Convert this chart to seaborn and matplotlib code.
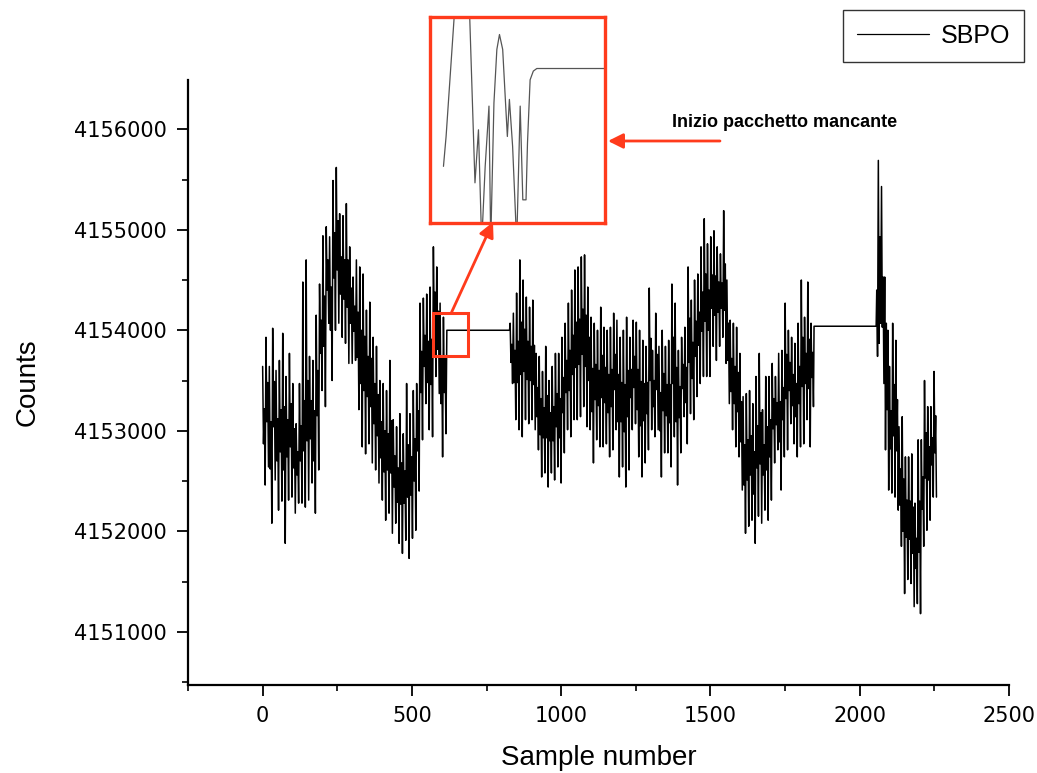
import matplotlib
matplotlib.use("Agg")
import matplotlib.pyplot as plt
from matplotlib.patches import Rectangle
import numpy as np
import seaborn as sns

# counts are stored as offsets above this level
BASE = 4150000

# segment 1: samples 0 - 614 (4 readings per ~11 samples: top, core low, core high, bottom)
seg1_counts = [
    3640, 2870, 3220, 2460, 3930, 3090, 3480, 2640, 3640, 2620, 3090, 2080,
    4020, 3040, 3490, 2510, 3600, 2700, 3120, 2210, 3700, 2790, 3210, 2300,
    3970, 2610, 3240, 1880, 3540, 2740, 3110, 2310, 3770, 2840, 3270, 2340,
    3470, 2630, 3020, 2180, 3070, 2560, 2790, 2280, 3470, 2700, 3050, 2280,
    4480, 2800, 3300, 2240, 4700, 2900, 3500, 2310, 3740, 2920, 3300, 2480,
    3700, 2700, 3200, 2180, 4150, 3150, 3600, 2610, 4460, 3770, 4100, 3400,
    4940, 3840, 4340, 3240, 5030, 4400, 4700, 4070, 4930, 4000, 4430, 3500,
    5490, 4520, 4970, 4000, 5620, 4600, 5090, 4070, 5160, 4360, 4730, 3930,
    5140, 4310, 4700, 3870, 5260, 4230, 4700, 3670, 4830, 4070, 4420, 3670,
    4530, 3990, 4240, 3700, 4700, 3730, 4180, 3210, 4630, 3470, 4000, 2840,
    4560, 3400, 3940, 2770, 4200, 3340, 3740, 2870, 4280, 3240, 3720, 2680,
    3930, 3070, 3470, 2610, 3840, 2950, 3360, 2480, 3500, 2730, 3090, 2310,
    3470, 2590, 3000, 2110, 3400, 2610, 2970, 2180, 3700, 2580, 3100, 1980,
    3110, 2440, 2750, 2080, 3040, 2290, 2630, 1880, 3170, 2270, 2680, 1780,
    2970, 2280, 2600, 1910, 3470, 2340, 2860, 1730, 3170, 2360, 2740, 1930,
    3400, 2500, 2920, 2010, 3470, 2800, 3200, 2400, 4270, 3380, 3790, 2910,
    4320, 3640, 3950, 3270, 4360, 3480, 3890, 3010, 4430, 3460, 3910, 2940,
    4830, 3990, 4380, 3540, 4630, 3810, 4190, 3370, 4270, 3270, 3740, 2740,
    4130, 3380, 3730, 2970,
]

# missing packet 1, held constant
gap1_samples = [617, 827]
gap1_counts = [4000, 4000]

# segment 2: samples 829 - 1845
seg2_counts = [
    4070, 3680, 3860, 3470, 4170, 3480, 3800, 3110, 4370, 3480, 3890, 3010,
    4700, 3560, 4080, 2940, 4500, 3590, 4010, 3110, 4330, 3510, 3890, 3070,
    4230, 3500, 3840, 3110, 4300, 3460, 3850, 3010, 3770, 3140, 3430, 2810,
    3740, 2960, 3320, 2540, 3590, 2930, 3230, 2580, 3840, 2930, 3350, 2440,
    3500, 2900, 3180, 2580, 3640, 2900, 3240, 2510, 3770, 3040, 3370, 2640,
    3770, 2930, 3320, 2480, 3930, 3180, 3530, 2780, 4070, 3380, 3700, 3010,
    4270, 3400, 3800, 2940, 4400, 3560, 3950, 3110, 4600, 3630, 4080, 3110,
    4630, 3660, 4110, 3140, 4730, 3760, 4210, 3240, 4750, 3640, 4150, 3040,
    4430, 3500, 3930, 3010, 4130, 3190, 3620, 2680, 4070, 3310, 3660, 2910,
    4000, 3250, 3600, 2840, 4230, 3330, 3750, 2840, 4030, 3280, 3630, 2870,
    4000, 3180, 3560, 2740, 4030, 3240, 3610, 2810, 4170, 3410, 3760, 3010,
    4100, 3090, 3560, 2540, 3930, 3090, 3480, 2640, 4000, 2990, 3460, 2440,
    4130, 3140, 3600, 2610, 3930, 3330, 3610, 3010, 4100, 3430, 3740, 3070,
    4080, 3210, 3610, 2740, 4000, 3050, 3490, 2540, 3900, 3100, 3470, 2680,
    3840, 3170, 3480, 2810, 4420, 3500, 3920, 3010, 3800, 3240, 3500, 2940,
    4170, 3410, 3760, 3010, 3840, 3000, 3380, 2540, 4000, 3200, 3570, 2780,
    3840, 3150, 3460, 2780, 3900, 3080, 3460, 2640, 4460, 3470, 3930, 2940,
    4270, 3090, 3630, 2460, 3800, 3130, 3440, 2780, 3930, 3420, 3660, 3140,
    4030, 3280, 3630, 2870, 4630, 3680, 4120, 3170, 4300, 3520, 3880, 3110,
    4500, 3740, 4090, 3340, 4560, 3850, 4180, 3470, 4830, 3990, 4380, 3540,
    5110, 4090, 4560, 3540, 4860, 4000, 4400, 3540, 4930, 4220, 4550, 3840,
    4990, 4150, 4540, 3700, 4830, 4180, 4480, 3840, 4760, 4220, 4470, 3930,
    5190, 4200, 4660, 3670, 4500, 3700, 4070, 3270, 4100, 3390, 3720, 3010,
    4070, 3270, 3640, 2840, 4030, 3190, 3580, 2740, 3770, 2890, 3290, 2410,
    3340, 2460, 2860, 1980, 3370, 2510, 2910, 2050, 3400, 2560, 2950, 2110,
    3270, 2370, 2790, 1880, 3540, 2630, 3050, 2150, 3770, 2670, 3180, 2080,
    3210, 2560, 2860, 2210, 3540, 2610, 3040, 2110, 3540, 2740, 3110, 2310,
    3670, 3020, 3320, 2680, 3540, 3060, 3280, 2810, 3770, 2890, 3290, 2410,
    3800, 3110, 3430, 2740, 4270, 3320, 3760, 2810, 4000, 3400, 3680, 3070,
    3930, 3250, 3560, 2870, 3870, 3140, 3470, 2740, 4070, 3270, 3640, 2840,
    4500, 3440, 3930, 2870, 4130, 3470, 3770, 3110, 4480, 3420, 3910, 2840,
    4070, 3530, 3780, 3240,
]

# missing packet 2
gap2_samples = [1847, 2055]
gap2_counts = [4040, 4040]

# segment 3: samples 2057 - 2257
seg3_counts = [
    4400, 3740, 5690, 3870, 4930, 4070, 5430, 4030, 4530, 3470, 4530, 2810,
    4070, 3210, 4000, 2410,
    3640, 2820, 3200, 2380, 4070, 2950, 3460, 2340, 3900, 2800, 3310, 2210,
    3040, 2260, 2620, 1850, 3140, 2000, 2520, 1380, 2740, 1940, 2310, 1520,
    2740, 1920, 2300, 1480, 2770, 1780, 2240, 1250, 2280, 1630, 1930, 1280,
    2910, 1790, 2300, 1180, 2910, 2220, 2540, 1850, 3500, 2530, 2980, 2010,
    3240, 2510, 2840, 2110, 3240, 2660, 2930, 2340, 3590, 2780, 3150, 2340,
]

# zoomed view in the inset (start of the missing packet)
inset_samples = [604.6, 605.5, 608.9, 613.3, 615.4, 616.6, 617.7, 618.9, 620.2,
                 620.8, 621.9, 622.9, 623.8, 624.9, 625.7, 626.5, 627.2, 628.3,
                 629.7, 630.9, 631.8, 632.9, 633.4, 634.3, 635.4, 636.6, 660.0]
inset_counts = [3810, 3868, 4153, 4153, 3778, 3881, 3661, 3810, 3927,
                3661, 3933, 4037, 4066, 4037, 3952, 3868, 3940, 3849,
                3661, 3927, 3745, 3745, 3855, 3978, 3995, 4000, 4000]

RED = "#ff3b1c"

samples = np.concatenate([
    np.linspace(0, 614, len(seg1_counts)), gap1_samples,
    np.linspace(829, 1845, len(seg2_counts)), gap2_samples,
    np.linspace(2057, 2257, len(seg3_counts)),
])
counts = BASE + np.concatenate([seg1_counts, gap1_counts, seg2_counts,
                                gap2_counts, seg3_counts])

sns.set_style("ticks")
plt.rcParams["font.family"] = ["DejaVu Sans"]
plt.rcParams.update({
    "axes.edgecolor": "black", "xtick.color": "black", "ytick.color": "black",
    "text.color": "black", "axes.labelcolor": "black",
})

fig = plt.figure(figsize=(10.37, 7.73), dpi=100)
ax = fig.add_axes([0.1813, 0.1138, 0.7917, 0.7827])

sns.lineplot(x=samples, y=counts, ax=ax, color="black", lw=1.1,
             estimator=None, sort=False, legend=False)

ax.set_xlim(-250, 2500)
ax.set_ylim(4150470, 4156490)
ax.set_xticks([0, 500, 1000, 1500, 2000, 2500])
ax.set_xticks(np.arange(-250, 2501, 250), minor=True)
ax.set_yticks(np.arange(4151000, 4156001, 1000))
ax.set_yticks(np.arange(4150500, 4156001, 500), minor=True)
ax.yaxis.set_major_formatter(matplotlib.ticker.FormatStrFormatter("%d"))
sns.despine(ax=ax)
for side in ["left", "bottom"]:
    ax.spines[side].set_linewidth(1.6)
ax.tick_params(which="major", direction="out", length=8, width=1.3,
               labelsize=15, pad=7)
ax.tick_params(which="minor", direction="out", length=4, width=1.2)

ax.set_xlabel("Sample number", family="Liberation Sans", fontsize=20, labelpad=14)
ax.set_ylabel("Counts", family="Liberation Sans", fontsize=20, labelpad=24)

# small box marking the zoomed region
ax.add_patch(Rectangle((570, 4153740), 117, 430, fill=False,
                       edgecolor=RED, lw=2.2, zorder=5))

# legend, top right
handle = plt.Line2D([], [], color="black", lw=0.9)
leg = fig.legend([handle], ["SBPO"], loc="upper left",
                 bbox_to_anchor=(0.813, 0.987), frameon=True, fancybox=False,
                 prop={"family": "Liberation Sans", "size": 18},
                 handlelength=2.9, handletextpad=0.45, borderpad=0.55,
                 borderaxespad=0)
leg.get_frame().set_edgecolor("black")
leg.get_frame().set_linewidth(1.0)

# inset with the zoomed trace
ins = fig.add_axes([0.4147, 0.7115, 0.1688, 0.2665])
sns.lineplot(x=inset_samples, y=BASE + np.array(inset_counts), ax=ins,
             color="#555555", lw=0.9, estimator=None, sort=False, legend=False)
ins.set_xlim(600, 660)
ins.set_ylim(4153700, 4154100)
ins.set_xticks([])
ins.set_yticks([])
ins.set_xlabel("")
ins.set_ylabel("")
ins.set_facecolor("white")
for sp in ins.spines.values():
    sp.set_visible(True)
    sp.set_edgecolor(RED)
    sp.set_linewidth(2.4)

# arrow from the small box to the inset
ax.annotate("", xy=(0.4754, 0.7128), xycoords="figure fraction",
            xytext=(633, 4154180), textcoords="data",
            arrowprops=dict(arrowstyle="-|>,head_length=0.9,head_width=0.45",
                            color=RED, lw=2, shrinkA=0, shrinkB=0))

# arrow and note pointing at the inset
ax.annotate("", xy=(0.5863, 0.8176), xycoords="figure fraction",
            xytext=(0.6943, 0.8176), textcoords="figure fraction",
            arrowprops=dict(arrowstyle="-|>,head_length=0.9,head_width=0.45",
                            color=RED, lw=2, shrinkA=0, shrinkB=0))
fig.text(0.757, 0.842, "Inizio pacchetto mancante", ha="center", va="center",
         family="Liberation Sans", fontweight="bold", fontsize=13)

fig.savefig("out.png", dpi=100)
